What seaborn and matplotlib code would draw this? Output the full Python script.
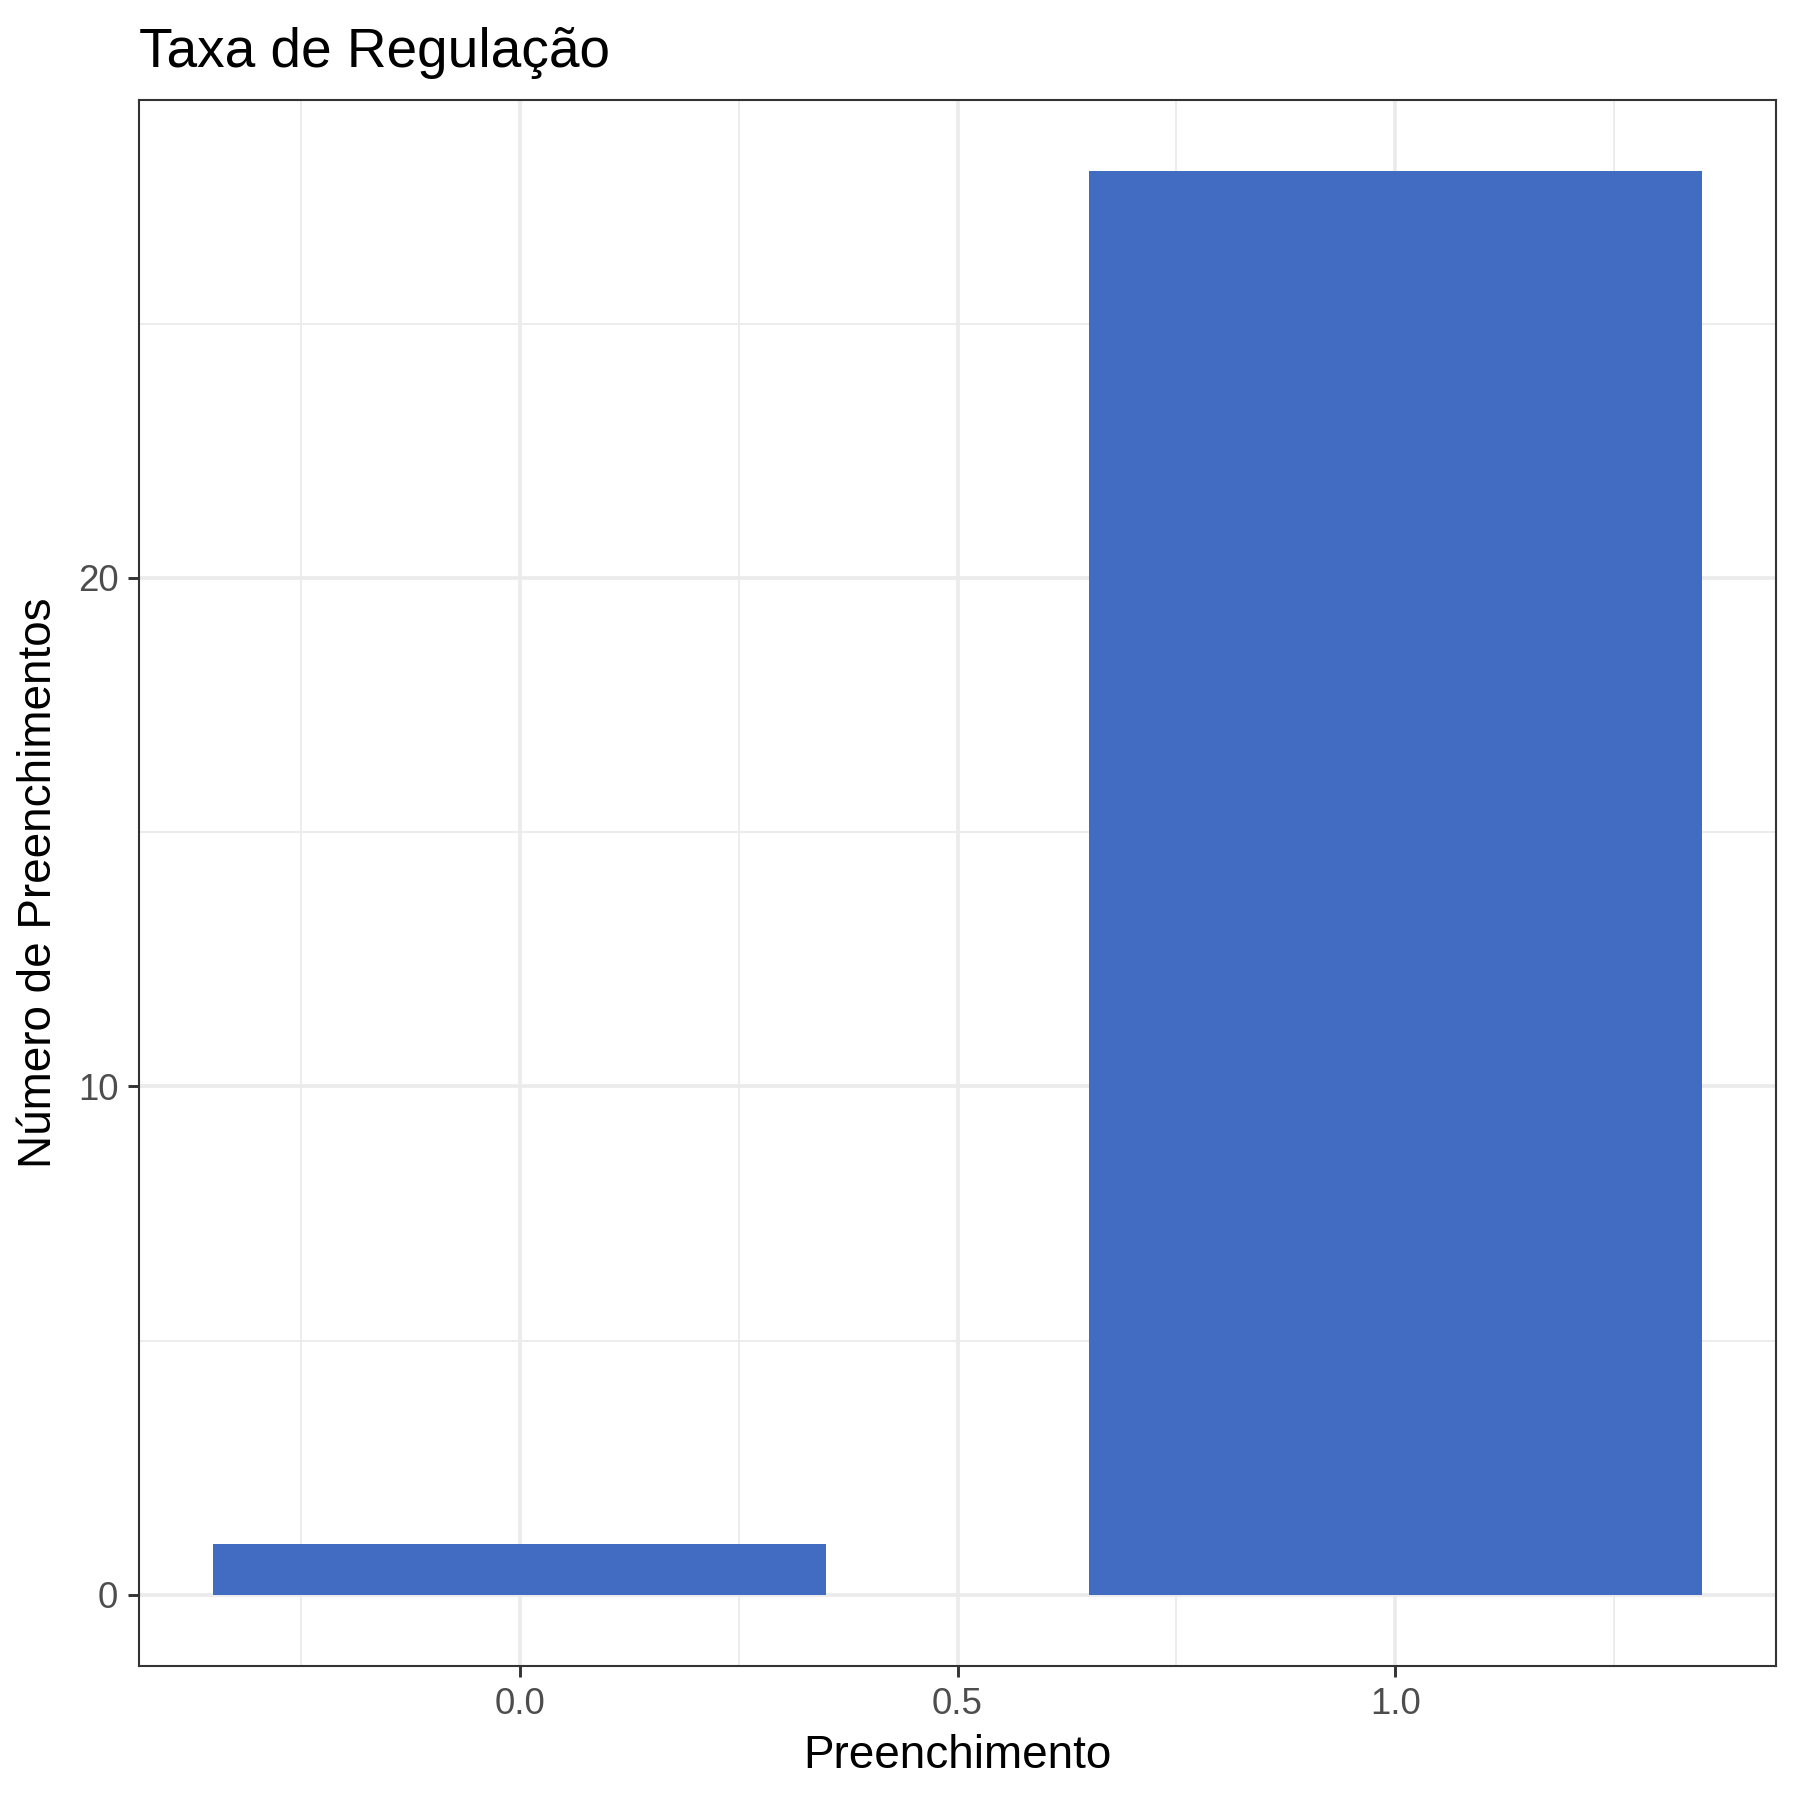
import numpy as np
import pandas as pd
import matplotlib
matplotlib.use('Agg')
import matplotlib.pyplot as plt
import seaborn as sns

# data
preenchimento = [0, 1]
contagem = [1, 28]

x_ticks = [0.0, 0.5, 1.0]
x_labels = ['0.0', '0.5', '1.0']
y_ticks = [0, 10, 20]
y_labels = ['0', '10', '20']

df = pd.DataFrame({'Preenchimento': preenchimento, 'n': contagem})

sns.set_style('white')
plt.rcParams['font.family'] = ['Liberation Sans', 'DejaVu Sans']

fig = plt.figure(figsize=(6, 6), dpi=300)
ax = fig.add_axes([0.0772, 0.0744, 0.9867 - 0.0772, 0.9445 - 0.0744])

sns.barplot(data=df, x='Preenchimento', y='n', native_scale=True, width=0.7,
            color='#416CC1', saturation=1, linewidth=0, ax=ax, zorder=3)

# ggplot-style limits (5% expansion)
ax.set_xlim(-0.435, 1.435)
ax.set_ylim(-1.4, 29.4)

# grid
for v in [-0.25, 0.25, 0.75, 1.25]:
    ax.axvline(v, color='#EBEBEB', linewidth=0.45, zorder=0)
for v in [5, 15, 25]:
    ax.axhline(v, color='#EBEBEB', linewidth=0.45, zorder=0)
for v in x_ticks:
    ax.axvline(v, color='#EBEBEB', linewidth=0.9, zorder=0)
for v in y_ticks:
    ax.axhline(v, color='#EBEBEB', linewidth=0.9, zorder=0)

ax.set_xticks(x_ticks)
ax.set_xticklabels(x_labels)
ax.set_yticks(y_ticks)
ax.set_yticklabels(y_labels)
ax.tick_params(axis='both', length=2.75, width=0.7, color='#333333',
               labelcolor='#4D4D4D', labelsize=8.8, pad=2.2,
               bottom=True, left=True)

for s in ax.spines.values():
    s.set_visible(True)
    s.set_color('#333333')
    s.set_linewidth(0.5)

ax.set_xlabel('Preenchimento', fontsize=11, color='black', labelpad=3)
ax.set_ylabel('Número de Preenchimentos', fontsize=11, color='black', labelpad=4)
ax.set_title('Taxa de Regulação', fontsize=13.2, loc='left', color='black', pad=8)

fig.savefig('out.png', dpi=300)
